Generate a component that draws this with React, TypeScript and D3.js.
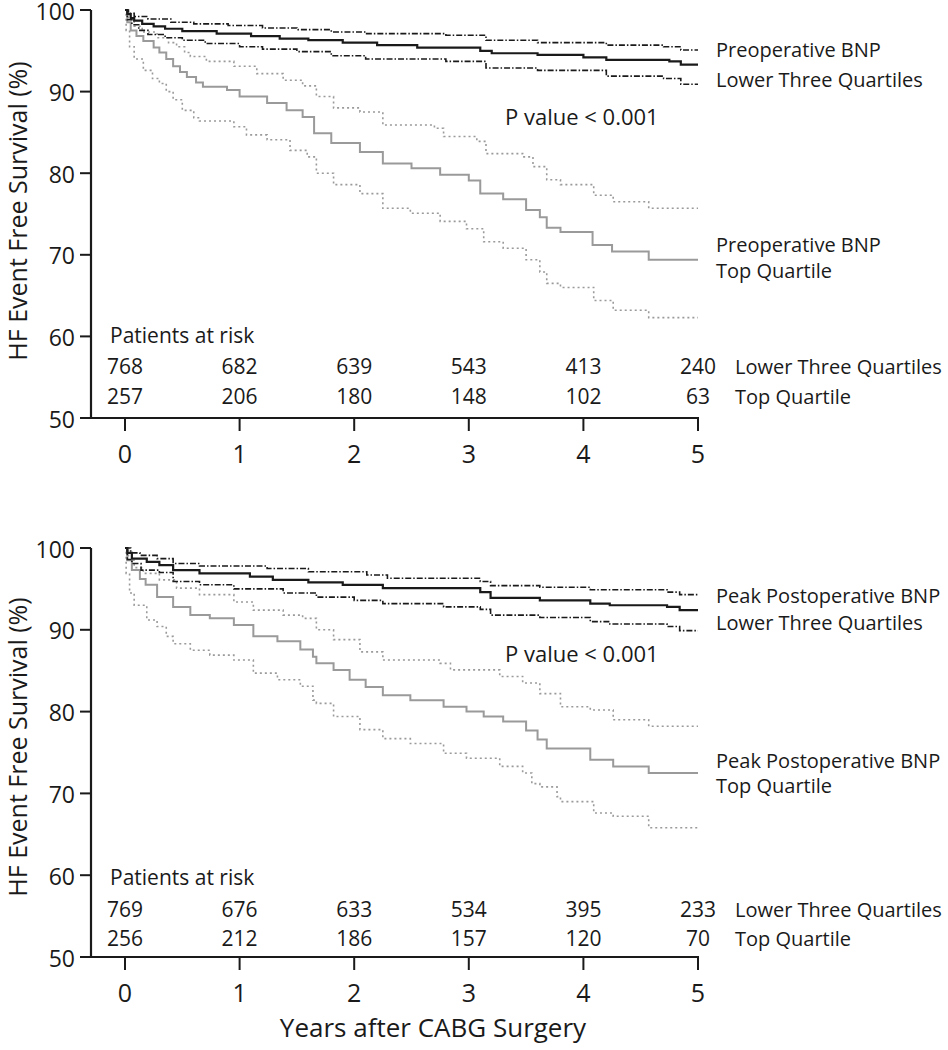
import React from 'react';
import * as d3 from 'd3';

// ---------- data ----------
const years = [0, 1, 2, 3, 4, 5];
const yTicks = [50, 60, 70, 80, 90, 100];

const preRiskLower = [768, 682, 639, 543, 413, 240];
const preRiskTop = [257, 206, 180, 148, 102, 63];
const postRiskLower = [769, 676, 633, 534, 395, 233];
const postRiskTop = [256, 212, 186, 157, 120, 70];

// Preoperative BNP – lower three quartiles [year, survival %]
const preLowEst: [number, number][] = [[0,100],[0.02,99.5],[0.05,99],[0.08,98.7],[0.15,98.3],[0.25,98.0],[0.35,97.7],[0.5,97.4],[0.8,97.1],[1.1,96.8],[1.35,96.5],[1.6,96.3],[1.9,96.0],[2.2,95.7],[2.55,95.4],[3.1,95.0],[3.2,94.7],[3.6,94.5],[4.0,94.2],[4.2,93.9],[4.75,93.7],[4.85,93.3]];
const preLowUpper: [number, number][] = [[0,100],[0.03,99.6],[0.08,99.2],[0.2,98.9],[0.4,98.5],[0.6,98.3],[0.9,98.1],[1.2,97.8],[1.5,97.6],[1.8,97.3],[2.1,97.1],[2.8,96.9],[3.15,96.3],[3.6,96.0],[4.2,95.7],[4.7,95.5],[4.85,95.1]];
const preLowLower: [number, number][] = [[0,100],[0.02,98.8],[0.06,98.2],[0.12,97.5],[0.2,97.0],[0.35,96.6],[0.5,96.3],[0.7,95.9],[1.0,95.5],[1.2,95.2],[1.5,94.9],[1.8,94.4],[2.1,94.0],[2.8,93.7],[3.15,92.9],[3.6,92.6],[4.2,91.9],[4.7,91.6],[4.85,90.9]];
// Preoperative BNP – top quartile
const preTopEst: [number, number][] = [[0,100],[0.02,98.5],[0.05,97.5],[0.1,96.8],[0.16,96.2],[0.25,95.4],[0.3,94.8],[0.36,94.0],[0.42,93.1],[0.48,92.4],[0.54,91.8],[0.62,91.1],[0.68,90.6],[0.89,90.2],[1.0,89.4],[1.24,88.6],[1.41,87.7],[1.55,86.9],[1.65,84.9],[1.8,83.7],[2.05,82.6],[2.25,81.2],[2.5,80.6],[2.75,79.8],[3.0,79.1],[3.1,77.5],[3.3,76.8],[3.5,75.5],[3.62,74.6],[3.68,73.3],[3.8,72.8],[4.08,71.2],[4.25,70.4],[4.57,69.4]];
const preTopUpper: [number, number][] = [[0,100],[0.03,98.8],[0.08,98.0],[0.15,97.3],[0.28,96.6],[0.38,96.0],[0.45,95.5],[0.52,94.8],[0.57,94.3],[0.71,93.7],[0.95,93.1],[1.15,92.2],[1.38,91.4],[1.55,90.7],[1.67,89.4],[1.82,88.0],[2.05,87.5],[2.25,85.9],[2.7,85.5],[2.78,84.5],[3.07,83.9],[3.15,82.4],[3.47,82.0],[3.56,80.8],[3.68,79.2],[3.8,78.6],[4.09,77.3],[4.26,76.5],[4.57,75.7]];
const preTopLower: [number, number][] = [[0,100],[0.01,97.5],[0.04,95.5],[0.08,94.0],[0.16,92.6],[0.24,91.6],[0.3,91.0],[0.36,90.0],[0.42,89.0],[0.5,87.7],[0.6,86.8],[0.65,86.4],[0.95,85.7],[1.06,84.7],[1.24,84.1],[1.44,82.8],[1.59,82.0],[1.67,80.0],[1.82,78.6],[2.05,77.5],[2.25,75.7],[2.49,75.1],[2.75,74.1],[2.98,73.2],[3.13,71.6],[3.3,70.8],[3.5,69.4],[3.62,67.9],[3.68,66.5],[3.8,66.0],[4.09,64.4],[4.26,63.2],[4.57,62.3]];

// Peak postoperative BNP – lower three quartiles
const postLowEst: [number, number][] = [[0,100],[0.02,99.4],[0.06,98.7],[0.19,98.3],[0.3,97.9],[0.42,97.3],[0.65,96.9],[1.09,96.5],[1.29,96.1],[1.6,95.8],[1.9,95.5],[2.25,95.1],[3.1,94.6],[3.19,93.9],[3.62,93.6],[4.06,93.2],[4.23,93.0],[4.73,92.8],[4.84,92.4]];
const postLowUpper: [number, number][] = [[0,100],[0.05,99.4],[0.13,99.1],[0.28,98.7],[0.42,98.1],[0.65,97.8],[1.24,97.5],[1.6,97.1],[2.11,96.7],[2.29,96.3],[3.1,95.9],[3.19,95.4],[3.62,95.2],[4.06,94.9],[4.73,94.6],[4.84,94.3]];
const postLowLower: [number, number][] = [[0,100],[0.02,98.6],[0.06,98.1],[0.14,97.3],[0.3,97.0],[0.42,95.9],[0.65,95.5],[0.95,95.0],[1.38,94.5],[1.67,94.0],[2.0,93.6],[2.25,93.2],[2.78,92.8],[3.1,92.5],[3.19,91.8],[3.62,91.5],[4.06,91.0],[4.23,90.7],[4.73,90.4],[4.84,89.9]];
// Peak postoperative BNP – top quartile
const postTopEst: [number, number][] = [[0,100],[0.02,98.5],[0.06,97.3],[0.13,96.2],[0.18,95.5],[0.28,94.0],[0.42,92.8],[0.57,91.8],[0.74,91.4],[0.95,90.6],[1.12,89.2],[1.33,88.6],[1.53,87.6],[1.64,86.7],[1.67,85.9],[1.82,85.1],[1.96,83.9],[2.1,83.0],[2.25,82.0],[2.49,81.4],[2.78,80.6],[2.98,80.0],[3.13,79.4],[3.3,78.8],[3.5,77.7],[3.6,76.6],[3.68,75.5],[4.06,74.1],[4.26,73.3],[4.57,72.5]];
const postTopUpper: [number, number][] = [[0,100],[0.03,98.5],[0.08,97.6],[0.16,96.9],[0.3,96.1],[0.45,95.1],[0.65,94.3],[0.95,93.4],[1.12,92.4],[1.38,91.8],[1.55,91.4],[1.67,90.0],[1.82,88.8],[2.05,87.3],[2.25,86.3],[2.75,85.9],[2.84,85.1],[3.27,84.3],[3.47,83.5],[3.62,82.2],[3.8,80.6],[4.06,80.2],[4.26,79.0],[4.57,78.2]];
const postTopLower: [number, number][] = [[0,100],[0.01,96.9],[0.04,94.5],[0.08,93.0],[0.19,91.2],[0.28,90.4],[0.36,89.2],[0.42,88.3],[0.57,87.5],[0.74,86.9],[0.95,86.3],[1.12,84.7],[1.33,83.9],[1.53,83.1],[1.64,81.4],[1.67,81.0],[1.82,79.4],[2.05,77.8],[2.25,76.7],[2.49,76.1],[2.78,74.9],[2.98,74.3],[3.27,73.3],[3.47,72.5],[3.55,71.2],[3.62,70.8],[3.77,69.6],[3.8,69.0],[4.09,67.6],[4.26,67.2],[4.57,65.8]];

const riskRowLabels = ['Lower Three Quartiles', 'Top Quartile'];

// ---------- styles ----------
const FONT = "'Open Sans', 'Noto Sans', sans-serif";
const INK = '#1a1a1a';
const GRAY = '#9a9a9a';

type Curve = [number, number][];

interface PanelProps {
  y100: number;
  y50: number;
  lowEst: Curve; lowUpper: Curve; lowLower: Curve;
  topEst: Curve; topUpper: Curve; topLower: Curve;
  riskLower: number[]; riskTop: number[];
  name: string;
  lowLabelY: [number, number];
  topLabelY: [number, number];
  pY: number;
  riskY: [number, number, number];
  titleY: number;
}

function Panel(p: PanelProps) {
  const x = d3.scaleLinear().domain([0, 5]).range([125, 698]);
  const y = d3.scaleLinear().domain([50, 100]).range([p.y50, p.y100]);
  const axisX = 91;
  const line = d3.line<[number, number]>()
    .x(d => x(d[0]))
    .y(d => y(d[1]))
    .curve(d3.curveStepAfter);
  const ext = (c: Curve): Curve => [...c, [5, c[c.length - 1][1]]];

  return (
    <g>
      {/* y-axis */}
      <line x1={axisX} x2={axisX} y1={y(100)} y2={y(50) + 1} stroke={INK} strokeWidth={2.2} />
      {yTicks.map(t => (
        <g key={t}>
          <line x1={axisX - 11} x2={axisX} y1={y(t)} y2={y(t)} stroke={INK} strokeWidth={2} />
          <text x={axisX - 16} y={y(t)} dy="0.42em" textAnchor="end" fontSize={23} fontFamily={FONT} fill={INK}>{t}</text>
        </g>
      ))}
      {/* x-axis */}
      <line x1={axisX} x2={x(5) + 1} y1={y(50)} y2={y(50)} stroke={INK} strokeWidth={2.2} />
      {years.map(t => (
        <g key={t}>
          <line x1={x(t)} x2={x(t)} y1={y(50)} y2={y(50) + 13} stroke={INK} strokeWidth={2} />
          <text x={x(t)} y={y(50) + 45} textAnchor="middle" fontSize={25} fontFamily={FONT} fill={INK}>{t}</text>
        </g>
      ))}
      {/* y title */}
      <text transform={`translate(27, ${p.titleY}) rotate(-90)`} textAnchor="middle" fontSize={25} fontFamily={FONT} fill={INK}>HF Event Free Survival (%)</text>

      {/* curves */}
      <path d={line(ext(p.topUpper))!} fill="none" stroke={GRAY} strokeWidth={1.6} strokeDasharray="2,3" />
      <path d={line(ext(p.topLower))!} fill="none" stroke={GRAY} strokeWidth={1.6} strokeDasharray="2,3" />
      <path d={line(ext(p.topEst))!} fill="none" stroke={GRAY} strokeWidth={2} />
      <path d={line(ext(p.lowUpper))!} fill="none" stroke={INK} strokeWidth={1.6} strokeDasharray="6,2,1.5,2" />
      <path d={line(ext(p.lowLower))!} fill="none" stroke={INK} strokeWidth={1.6} strokeDasharray="6,2,1.5,2" />
      <path d={line(ext(p.lowEst))!} fill="none" stroke={INK} strokeWidth={2.2} />

      {/* curve labels */}
      <text x={716} y={p.lowLabelY[0]} fontSize={20} fontFamily={FONT} fill={INK}>{p.name}</text>
      <text x={716} y={p.lowLabelY[1]} fontSize={20} fontFamily={FONT} fill={INK}>Lower Three Quartiles</text>
      <text x={716} y={p.topLabelY[0]} fontSize={20} fontFamily={FONT} fill={INK}>{p.name}</text>
      <text x={716} y={p.topLabelY[1]} fontSize={20} fontFamily={FONT} fill={INK}>Top Quartile</text>

      <text x={505} y={p.pY} fontSize={22} fontFamily={FONT} fill={INK}>P value &lt; 0.001</text>

      {/* risk table */}
      <text x={110} y={p.riskY[0]} fontSize={21} fontFamily={FONT} fill={INK}>Patients at risk</text>
      {years.map((t, i) => (
        <g key={t}>
          <text x={x(t)} y={p.riskY[1]} textAnchor="middle" fontSize={21} fontFamily={FONT} fill={INK}>{p.riskLower[i]}</text>
          <text x={x(t)} y={p.riskY[2]} textAnchor="middle" fontSize={21} fontFamily={FONT} fill={INK}>{p.riskTop[i]}</text>
        </g>
      ))}
      <text x={735} y={p.riskY[1]} fontSize={20} fontFamily={FONT} fill={INK}>{riskRowLabels[0]}</text>
      <text x={735} y={p.riskY[2]} fontSize={20} fontFamily={FONT} fill={INK}>{riskRowLabels[1]}</text>
    </g>
  );
}

export default function App() {
  return (
    <svg width={948} height={1050} style={{ position: 'absolute', left: 0, top: 0, background: '#fff' }}>
      <rect x={0} y={0} width={948} height={1050} fill="#fff" />
      <Panel
        y100={10} y50={418}
        lowEst={preLowEst} lowUpper={preLowUpper} lowLower={preLowLower}
        topEst={preTopEst} topUpper={preTopUpper} topLower={preTopLower}
        riskLower={preRiskLower} riskTop={preRiskTop}
        name="Preoperative BNP"
        lowLabelY={[57, 87]} topLabelY={[252, 278]}
        pY={125} riskY={[343, 374, 404]} titleY={211}
      />
      <Panel
        y100={548} y50={957}
        lowEst={postLowEst} lowUpper={postLowUpper} lowLower={postLowLower}
        topEst={postTopEst} topUpper={postTopUpper} topLower={postTopLower}
        riskLower={postRiskLower} riskTop={postRiskTop}
        name="Peak Postoperative BNP"
        lowLabelY={[603, 630]} topLabelY={[768, 793]}
        pY={662} riskY={[885, 917, 946]} titleY={747}
      />
      <text x={433} y={1037} textAnchor="middle" fontSize={26} fontFamily={FONT} fill={INK}>Years after CABG Surgery</text>
    </svg>
  );
}
